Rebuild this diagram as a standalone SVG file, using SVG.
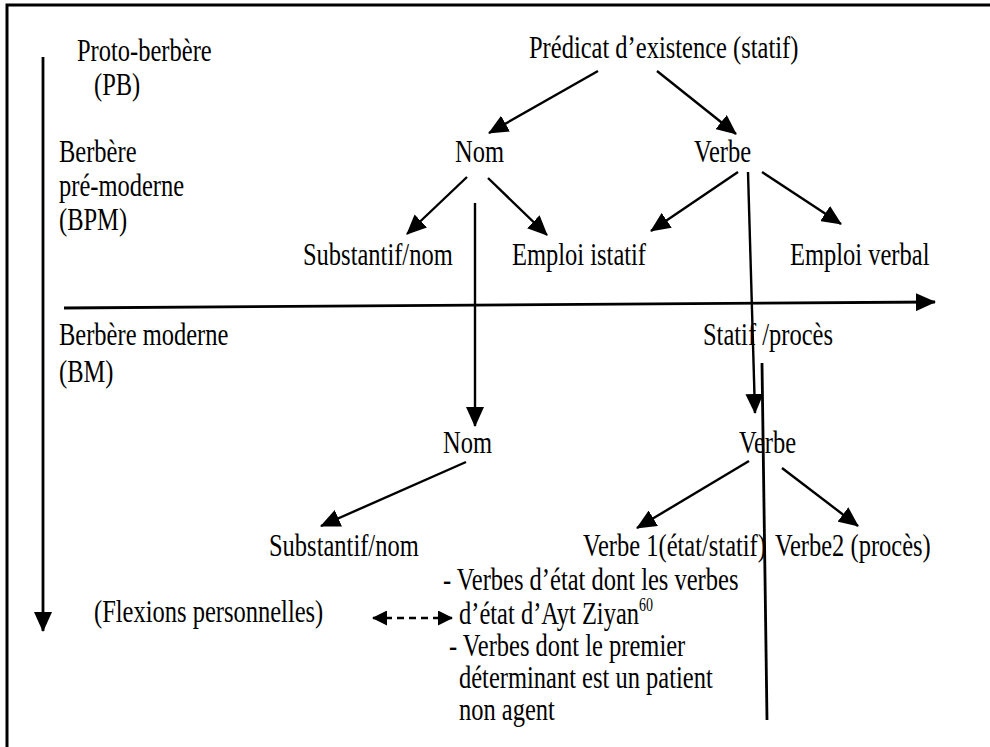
<svg xmlns="http://www.w3.org/2000/svg" width="990" height="747" viewBox="0 0 990 747">
<style>
  text { font-family: "Liberation Serif", "Times New Roman", serif; font-size: 24.5px; fill: #000; }
  .ln { stroke: #000; stroke-width: 2.4; fill: none; }
  .axis { stroke: #000; stroke-width: 2.8; fill: none; }
  .arr { marker-end: url(#ah); }
</style>
<defs>
  <marker id="ah" markerUnits="userSpaceOnUse" markerWidth="20" markerHeight="18" viewBox="0 0 20 18" refX="19" refY="9" orient="auto">
    <path d="M0,0 L20,9 L0,18 z" fill="#000"/>
  </marker>
  <marker id="ahs" markerUnits="userSpaceOnUse" markerWidth="15" markerHeight="15" viewBox="0 0 15 15" refX="14" refY="7.5" orient="auto-start-reverse">
    <path d="M0,0 L15,7.5 L0,15 z" fill="#000"/>
  </marker>
</defs>
<rect width="990" height="747" fill="#fff"/>
<path d="M7,747 L7,5 L990,5" stroke="#000" stroke-width="3" fill="none"/>

<g id="connectors">
  <line class="axis arr" x1="43" y1="57" x2="43" y2="631"/>
  <line class="axis arr" x1="64" y1="308" x2="935" y2="302"/>
  <line class="ln arr" x1="598" y1="71" x2="489" y2="133"/>
  <line class="ln arr" x1="657" y1="71" x2="736" y2="134"/>
  <line class="ln arr" x1="467" y1="177" x2="407" y2="234"/>
  <line class="ln arr" x1="488" y1="178" x2="547" y2="235"/>
  <line class="ln arr" x1="738" y1="172" x2="651" y2="231"/>
  <line class="ln arr" x1="762" y1="172" x2="841" y2="224"/>
  <line class="ln arr" x1="748" y1="172" x2="755" y2="413"/>
  <line class="ln arr" x1="475" y1="203" x2="475" y2="426"/>
  <line class="axis" x1="762" y1="363" x2="767" y2="720"/>
  <line class="ln arr" x1="466" y1="462" x2="321" y2="526"/>
  <line class="ln arr" x1="749" y1="461" x2="637" y2="528"/>
  <line class="ln arr" x1="782" y1="468" x2="858" y2="526"/>
  <line x1="373" y1="618" x2="452" y2="618" stroke="#000" stroke-width="2.4" stroke-dasharray="7,5" marker-start="url(#ahs)" marker-end="url(#ahs)"/>
</g>

<g id="label-pb"><text transform="translate(77,61) scale(1,1.3)">Proto-berbère</text><text transform="translate(94,95) scale(1,1.3)">(PB)</text></g>
<g id="label-bpm"><text transform="translate(59,162) scale(1,1.3)">Berbère</text><text transform="translate(59,196) scale(1,1.3)">pré-moderne</text><text transform="translate(59,230) scale(1,1.3)">(BPM)</text></g>
<g id="label-bm"><text transform="translate(59,345) scale(1,1.3)">Berbère moderne</text><text transform="translate(59,382) scale(1,1.3)">(BM)</text></g>

<g id="predicat"><text transform="translate(529,58) scale(1,1.3)">Prédicat d’existence (statif)</text></g>
<g id="nom1"><text transform="translate(455,162) scale(1,1.3)">Nom</text></g>
<g id="verbe1"><text transform="translate(694,162) scale(1,1.3)">Verbe</text></g>
<g id="substantif1"><text transform="translate(303,265) scale(1,1.3)">Substantif/nom</text></g>
<g id="emploi-istatif"><text transform="translate(512,265) scale(1,1.3)">Emploi istatif</text></g>
<g id="emploi-verbal"><text transform="translate(790,265) scale(1,1.3)">Emploi verbal</text></g>
<g id="statif-proces"><text transform="translate(703,345) scale(1,1.3)">Statif /procès</text></g>
<g id="nom2"><text transform="translate(443,453) scale(1,1.3)">Nom</text></g>
<g id="verbe2"><text transform="translate(739,453) scale(1,1.3)">Verbe</text></g>
<g id="substantif2"><text transform="translate(269,556) scale(1,1.3)">Substantif/nom</text></g>
<g id="verbe-etat"><text transform="translate(583,556) scale(1,1.3)">Verbe 1(état/statif)</text></g>
<g id="verbe-proces"><text transform="translate(775,556) scale(1,1.3)">Verbe2 (procès)</text></g>
<g id="flexions"><text transform="translate(94,622) scale(1,1.3)">(Flexions personnelles)</text></g>
<g id="verbes-list">
  <text transform="translate(443,590) scale(1,1.3)">- Verbes d’état dont les verbes</text>
  <text transform="translate(459,624) scale(1,1.3)">d’état d’Ayt Ziyan<tspan dy="-10" font-size="14">60</tspan></text>
  <text transform="translate(449,656) scale(1,1.3)">- Verbes dont le premier</text>
  <text transform="translate(459,688) scale(1,1.3)">déterminant est un patient</text>
  <text transform="translate(459,720) scale(1,1.3)">non agent</text>
</g>
</svg>
